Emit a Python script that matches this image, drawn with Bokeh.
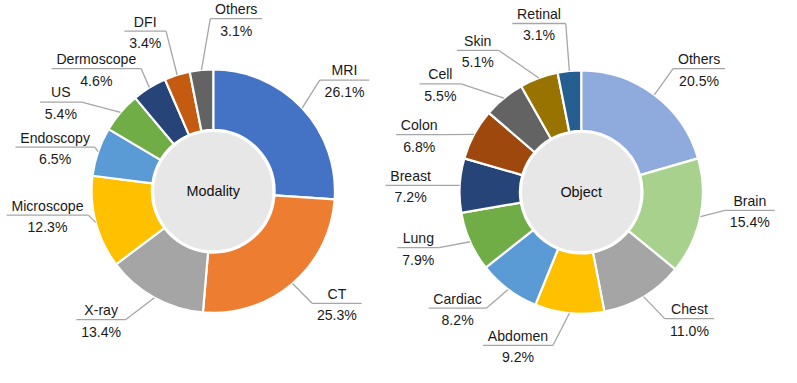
import math
from bokeh.plotting import figure
from bokeh.models import Range1d, ColumnDataSource
from bokeh.embed import file_html
from bokeh.resources import INLINE
from bokeh.core.properties import value

# ---------------- data ----------------
modality_labels = ["MRI", "CT", "X-ray", "Microscope", "Endoscopy", "US",
                   "Dermoscope", "DFI", "Others"]
modality_values = [26.1, 25.3, 13.4, 12.3, 6.5, 5.4, 4.6, 3.4, 3.1]

object_labels = ["Others", "Brain", "Chest", "Abdomen", "Cardiac", "Lung",
                 "Breast", "Colon", "Cell", "Skin", "Retinal"]
object_values = [20.5, 15.4, 11.0, 9.2, 8.2, 7.9, 7.2, 6.8, 5.5, 5.1, 3.1]

# ---------------- styles ----------------
modality_colors = ["#4472C4", "#ED7D31", "#A5A5A5", "#FFC000", "#5B9BD5",
                   "#70AD47", "#264478", "#C55A11", "#636363"]
object_colors = ["#8FAADC", "#A9D18E", "#A5A5A5", "#FFC000", "#5B9BD5",
                 "#70AD47", "#264478", "#9E480E", "#636363", "#997300",
                 "#255E91"]

# ---------------- layout (reference px, x right / y up from centre) ----------------
modality_label_offsets = [(137, 116), (129, -117), (-117, -134), (-173, -25),
                          (-165, 46), (-159, 93), (-122, 128), (-71, 167),
                          (24, 180)]
object_label_offsets = [(123, 129), (176, -19), (113, -132), (-66, -160),
                        (-129, -121), (-170, -58), (-178, 7), (-169, 60),
                        (-147, 113), (-108, 148), (-44, 176)]

IMG_W, IMG_H = 797, 383
FIG_W, FIG_H = 781, 367
S = FIG_H / IMG_H
R_OUT, R_IN, R_DISC = 127, 64, 63
FONT = "Liberation Sans"
TEXT_COLOR = "#1a1a1a"
LINE_COLOR = "#A6A6A6"
REF_FONT_PX = 14.7

ARIAL_W = {' ': 278, '%': 889, '-': 333, '.': 278}
for d in "0123456789":
    ARIAL_W[d] = 556
ARIAL_W.update({'A': 667, 'B': 667, 'C': 722, 'D': 722, 'E': 667, 'F': 611,
                'I': 278, 'L': 556, 'M': 833, 'O': 778, 'R': 722, 'S': 667,
                'T': 611, 'U': 722, 'X': 667, 'a': 556, 'b': 556, 'c': 500,
                'd': 556, 'e': 556, 'g': 556, 'h': 556, 'i': 222, 'j': 222,
                'k': 500, 'l': 222, 'm': 833, 'n': 556, 'o': 556, 'p': 556,
                'r': 333, 's': 500, 't': 278, 'u': 556, 'y': 500, 'x': 500,
                'v': 500})


def text_w(t):
    return sum(ARIAL_W.get(ch, 556) for ch in t) / 1000.0 * REF_FONT_PX


half = FIG_W / S / 2
xc = IMG_W / 2
p = figure(width=FIG_W, height=FIG_H, output_backend="svg",
           toolbar_location=None,
           x_range=Range1d(xc - half, xc + half), y_range=Range1d(0, IMG_H),
           min_border=0)
p.axis.visible = False
p.grid.visible = False
p.outline_line_color = None
p.background_fill_color = "white"
p.border_fill_color = "white"


def donut(cx_ref, cy_ref, labels, values, colors, offsets, title):
    cx, cy = cx_ref, IMG_H - cy_ref
    total = float(sum(values))
    starts, ends, mids = [], [], []
    acc = 0.0
    for v in values:
        c0 = acc / total
        acc += v
        c1 = acc / total
        starts.append(math.pi / 2 - 2 * math.pi * c0)
        ends.append(math.pi / 2 - 2 * math.pi * c1)
        mids.append(2 * math.pi * (c0 + c1) / 2)  # clockwise from top
    src = ColumnDataSource(dict(x=[cx] * len(values), y=[cy] * len(values),
                                start=starts, end=ends, color=colors))
    p.annular_wedge(x="x", y="y", inner_radius=R_IN, outer_radius=R_OUT,
                    start_angle="start", end_angle="end", direction="clock",
                    fill_color="color", line_color="white", line_width=2.2,
                    source=src)
    p.circle(x=[cx], y=[cy], radius=R_DISC, fill_color="#E7E7E7",
             line_color="white", line_width=2.5)
    p.text(x=[cx], y=[cy], text=[title], text_align="center",
           text_baseline="middle", text_font=value(FONT),
           text_font_size="14.4px", text_color="#111111")

    nx, ny, px_, py_, pct = [], [], [], [], []
    ux0, ux1, uy = [], [], []
    lx0, ly0, lx1, ly1 = [], [], [], []
    for lab, v, m, (dx, dy) in zip(labels, values, mids, offsets):
        tx, ly = cx + dx, cy + dy
        pstr = f"{v:.1f}%"
        w = max(text_w(lab), text_w(pstr))
        x0, x1 = tx - w / 2 - 5, tx + w / 2 + 5
        nx.append(tx); ny.append(ly + 10)
        px_.append(tx); py_.append(ly - 12.5); pct.append(pstr)
        ux0.append(x0); ux1.append(x1); uy.append(ly)
        sx = cx + R_OUT * math.sin(m)
        sy = cy + R_OUT * math.cos(m)
        if sx < x0:
            ex = x0
        elif sx > x1:
            ex = x1
        else:
            ex = sx
        lx0.append(sx); ly0.append(sy); lx1.append(ex); ly1.append(ly)
    p.segment(x0=ux0, y0=uy, x1=ux1, y1=uy, line_color=LINE_COLOR,
              line_width=1.3)
    p.segment(x0=lx0, y0=ly0, x1=lx1, y1=ly1, line_color=LINE_COLOR,
              line_width=1.3)
    p.text(x=nx, y=ny, text=list(labels), text_align="center",
           text_baseline="middle", text_font=value(FONT),
           text_font_size="14.1px", text_color=TEXT_COLOR)
    p.text(x=px_, y=py_, text=pct, text_align="center",
           text_baseline="middle", text_font=value(FONT),
           text_font_size="14.1px", text_color=TEXT_COLOR)


donut(213, 199, modality_labels, modality_values, modality_colors,
      modality_label_offsets, "Modality")
donut(597, 200, object_labels, object_values, object_colors,
      object_label_offsets, "Object")

open("out.html", "w").write(file_html(p, INLINE))
